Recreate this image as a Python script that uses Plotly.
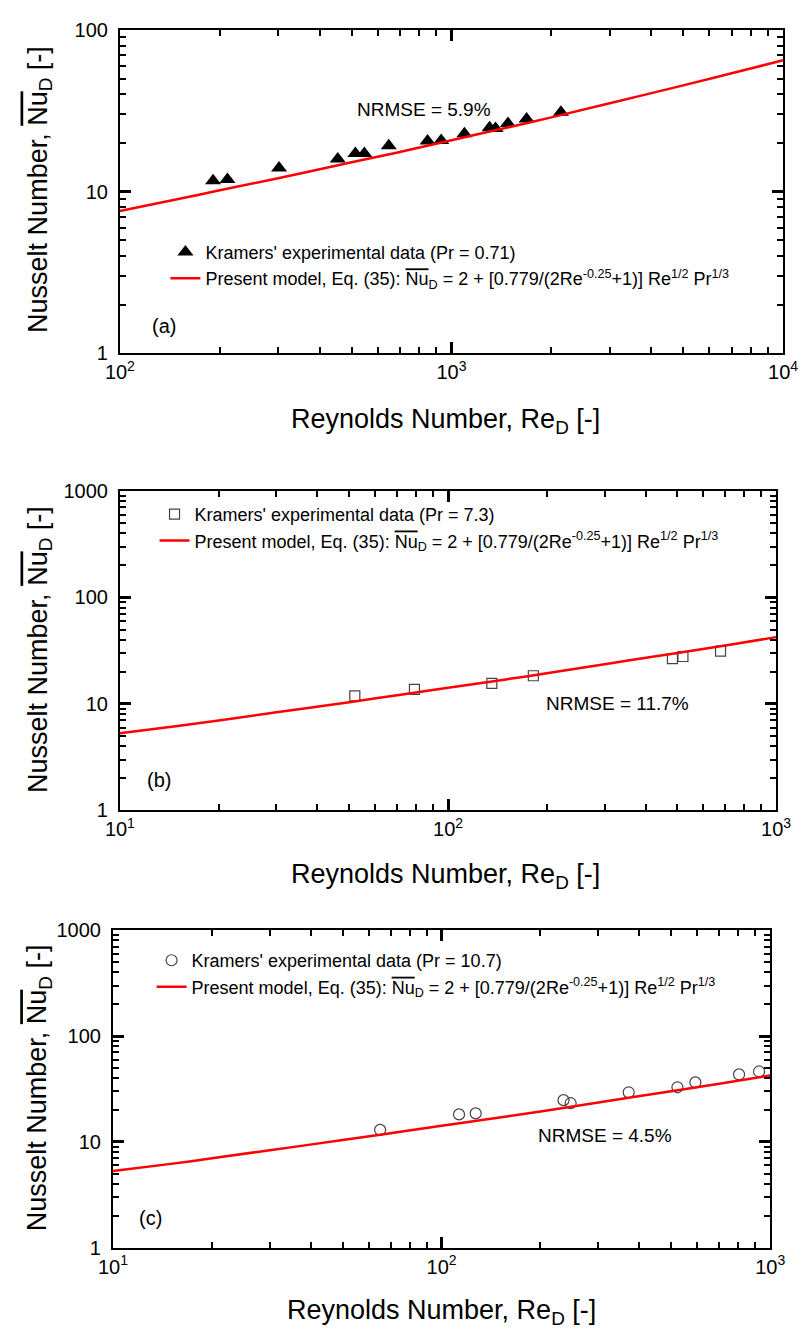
import math
import plotly.graph_objects as go

# ---------------- data ----------------
# Panel (a): Pr = 0.71
re_a = [191, 211, 302, 454, 513, 546, 647, 847, 931, 1094, 1303, 1358, 1480, 1685, 2138]
nu_a = [11.7, 11.9, 14.0, 15.9, 17.2, 17.2, 19.2, 20.6, 20.7, 22.8, 24.8, 24.6, 26.4, 28.1, 31.0]
model_re_a = [100, 150, 200, 300, 500, 700, 1000, 1500, 2000, 3000, 5000, 7000, 10000]
model_nu_a = [7.6, 9.0, 10.2, 12.1, 15.2, 17.6, 20.8, 25.1, 28.8, 35.2, 45.4, 53.9, 64.9]

# Panel (b): Pr = 7.3
re_b = [52, 79, 136, 182, 483, 520, 677]
nu_b = [11.9, 13.7, 15.6, 18.4, 26.6, 27.9, 31.3]

# Panel (c): Pr = 10.7
re_c = [65, 113, 127, 235, 247, 371, 522, 592, 804, 925]
nu_c = [13.0, 18.2, 18.6, 24.8, 23.2, 29.4, 32.8, 36.5, 43.4, 46.3]

# model curve as drawn in panels (b) and (c)
model_re_bc = [10, 15, 20, 30, 50, 70, 100, 150, 200, 300, 500, 700, 1000]
model_nu_bc = [5.3, 6.2, 7.0, 8.35, 10.4, 12.1, 14.2, 17.0, 19.4, 23.6, 30.1, 35.4, 42.4]

nrmse_labels = ["NRMSE = 5.9%", "NRMSE = 11.7%", "NRMSE = 4.5%"]
nrmse_re = [828, 329, 314]
nrmse_nu = [32.0, 10.0, 11.6]
panel_labels = ["(a)", "(b)", "(c)"]
exp_labels = ["Kramers' experimental data (Pr = 0.71)",
              "Kramers' experimental data (Pr = 7.3)",
              "Kramers' experimental data (Pr = 10.7)"]

FONT = "Arial, Liberation Sans, sans-serif"
OVER = '<span style="text-decoration:overline">Nu</span>'
model_label = ("Present model, Eq. (35): " + OVER + "<sub>D</sub> = 2 + [0.779/(2Re<sup>-0.25</sup>+1)] "
               "Re<sup>1/2</sup> Pr<sup>1/3</sup>")
ytitle = "Nusselt Number, " + OVER + "<sub>D</sub> [-]"
xtitle = "Reynolds Number, Re<sub>D</sub> [-]"
RED = "#ff0000"

fig = go.Figure()
fig.add_trace(go.Scatter(x=re_a, y=nu_a, mode="markers", name=exp_labels[0],
                         marker=dict(symbol="triangle-up", size=14, color="black"),
                         xaxis="x", yaxis="y", legend="legend"))
fig.add_trace(go.Scatter(x=model_re_a, y=model_nu_a, mode="lines", name=model_label,
                         line=dict(color=RED, width=2.5, shape="spline"),
                         xaxis="x", yaxis="y", legend="legend"))
fig.add_trace(go.Scatter(x=re_b, y=nu_b, mode="markers", name=exp_labels[1],
                         marker=dict(symbol="square-open", size=10, color="#444444",
                                     line=dict(width=1.2)),
                         xaxis="x2", yaxis="y2", legend="legend2"))
fig.add_trace(go.Scatter(x=model_re_bc, y=model_nu_bc, mode="lines", name=model_label,
                         line=dict(color=RED, width=2.5, shape="spline"),
                         xaxis="x2", yaxis="y2", legend="legend2"))
fig.add_trace(go.Scatter(x=re_c, y=nu_c, mode="markers", name=exp_labels[2],
                         marker=dict(symbol="circle-open", size=11, color="#444444",
                                     line=dict(width=1.2)),
                         xaxis="x3", yaxis="y3", legend="legend3"))
fig.add_trace(go.Scatter(x=model_re_bc, y=model_nu_bc, mode="lines", name=model_label,
                         line=dict(color=RED, width=2.5, shape="spline"),
                         xaxis="x3", yaxis="y3", legend="legend3"))


def minor_vals(lo, hi):
    vals = []
    d = lo
    while d < hi:
        vals += [k * d for k in range(2, 10)]
        d *= 10
    return vals


MAJ_LEN, MAJ_W, MIN_LEN, MIN_W = 11, 2.5, 6, 2


def axis_base(domain, anchor, lo, hi):
    return dict(type="log", domain=domain, anchor=anchor,
                range=[math.log10(lo), math.log10(hi)],
                ticks="inside", tickcolor="black", layer="above traces",
                showline=True, linewidth=2, linecolor="black", mirror="allticks",
                showgrid=False, zeroline=False)


def minor_cfg(lo, hi):
    return dict(tickmode="array", tickvals=minor_vals(lo, hi), ticks="inside",
                ticklen=MIN_LEN, tickwidth=MIN_W, tickcolor="black", showgrid=False)


def xaxis_cfg(domain, anchor, lo, hi, tickvals):
    d = axis_base(domain, anchor, lo, hi)
    d.update(tickmode="array", tickvals=tickvals,
             ticktext=["10<sup>%d</sup>" % round(math.log10(v)) for v in tickvals],
             ticklen=MAJ_LEN, tickwidth=MAJ_W, ticklabelstandoff=0, minor=minor_cfg(lo, hi),
             tickfont=dict(family=FONT, size=20, color="black"))
    return d


def yaxis_cfg(domain, anchor, hi, tickvals):
    d = axis_base(domain, anchor, 1, hi)
    d.update(tickmode="array", tickvals=tickvals, ticktext=[str(v) for v in tickvals],
             ticklen=MAJ_LEN, tickwidth=MAJ_W, ticklabelstandoff=6, minor=minor_cfg(1, hi),
             tickfont=dict(family=FONT, size=20, color="black"))
    return d


def minor_axis(over, anchor, domain, lo, hi):
    # overlay axis that only carries the minor ticks (same scale as its parent)
    d = axis_base(domain, anchor, lo, hi)
    d.update(overlaying=over, tickmode="array", tickvals=minor_vals(lo, hi),
             ticklen=MIN_LEN, tickwidth=MIN_W, showticklabels=False)
    return d


# page geometry (the page body adds an 8 px offset) -> paper coordinates
L, T, W, H = 110, 10, 686, 1312
px = lambda x: (x - L) / W
py = lambda y: (T + H - y) / H

xa = [px(120), px(790)]
ya = [py(346), py(19)]
xb = [px(120), px(783)]
yb = [py(808), py(485)]
xc = [px(113), px(777)]
yc = [py(1250), py(929)]

fig.update_layout(
    xaxis=xaxis_cfg(xa, "y", 100, 10000, [100, 1000, 10000]),
    yaxis=yaxis_cfg(ya, "x", 100, [1, 10, 100]),
    xaxis2=xaxis_cfg(xb, "y2", 10, 1000, [10, 100, 1000]),
    yaxis2=yaxis_cfg(yb, "x2", 1000, [1, 10, 100, 1000]),
    xaxis3=xaxis_cfg(xc, "y3", 10, 1000, [10, 100, 1000]),
    yaxis3=yaxis_cfg(yc, "x3", 1000, [1, 10, 100, 1000]),
    xaxis4=minor_axis("x", "y", xa, 100, 10000),
    yaxis4=minor_axis("y", "x", ya, 1, 100),
    xaxis5=minor_axis("x2", "y2", xb, 10, 1000),
    yaxis5=minor_axis("y2", "x2", yb, 1, 1000),
    xaxis6=minor_axis("x3", "y3", xc, 10, 1000),
    yaxis6=minor_axis("y3", "x3", yc, 1, 1000),
)

leg_common = dict(xanchor="left", yanchor="top", bgcolor="rgba(0,0,0,0)",
                  font=dict(family=FONT, size=18, color="black"), tracegroupgap=0,
                  itemwidth=30, traceorder="normal")
fig.update_layout(
    legend=dict(x=px(166), y=py(225), **leg_common),
    legend2=dict(x=px(155), y=py(490), **leg_common),
    legend3=dict(x=px(152), y=py(941), **leg_common),
)

annotations = []
for xr, yr, xv, yv, txt in zip(["x", "x2", "x3"], ["y", "y2", "y3"], nrmse_re, nrmse_nu, nrmse_labels):
    annotations.append(dict(x=math.log10(xv), y=math.log10(yv), xref=xr, yref=yr, text=txt,
                            showarrow=False, font=dict(family=FONT, size=19, color="black")))
for xr, yr, xx, yy, txt in [("x domain", "y domain", 0.045, 0.086, panel_labels[0]),
                            ("x2 domain", "y2 domain", 0.038, 0.096, panel_labels[1]),
                            ("x3 domain", "y3 domain", 0.036, 0.093, panel_labels[2])]:
    annotations.append(dict(x=xx, y=yy, xref=xr, yref=yr, xanchor="left", yanchor="middle",
                            text=txt, showarrow=False,
                            font=dict(family=FONT, size=20, color="black")))
for ycen in [180, 645, 1088]:
    annotations.append(dict(x=px(39), y=py(ycen), xref="paper", yref="paper", text=ytitle,
                            textangle=-90, showarrow=False, xanchor="center", yanchor="middle",
                            font=dict(family=FONT, size=27, color="black")))
for xcen, ycen in [(449, 414), (449, 874), (445, 1315)]:
    annotations.append(dict(x=px(xcen), y=py(ycen), xref="paper", yref="paper", text=xtitle,
                            showarrow=False, xanchor="center", yanchor="middle",
                            font=dict(family=FONT, size=27, color="black")))

fig.update_layout(
    width=798, height=1324,
    margin=dict(l=L - 8, r=798 - (L - 8) - W, t=T - 8, b=1324 - (T - 8) - H),
    paper_bgcolor="white", plot_bgcolor="white",
    font=dict(family=FONT, color="black"),
    annotations=annotations,
    showlegend=True,
)

fig.write_html("out.html")
